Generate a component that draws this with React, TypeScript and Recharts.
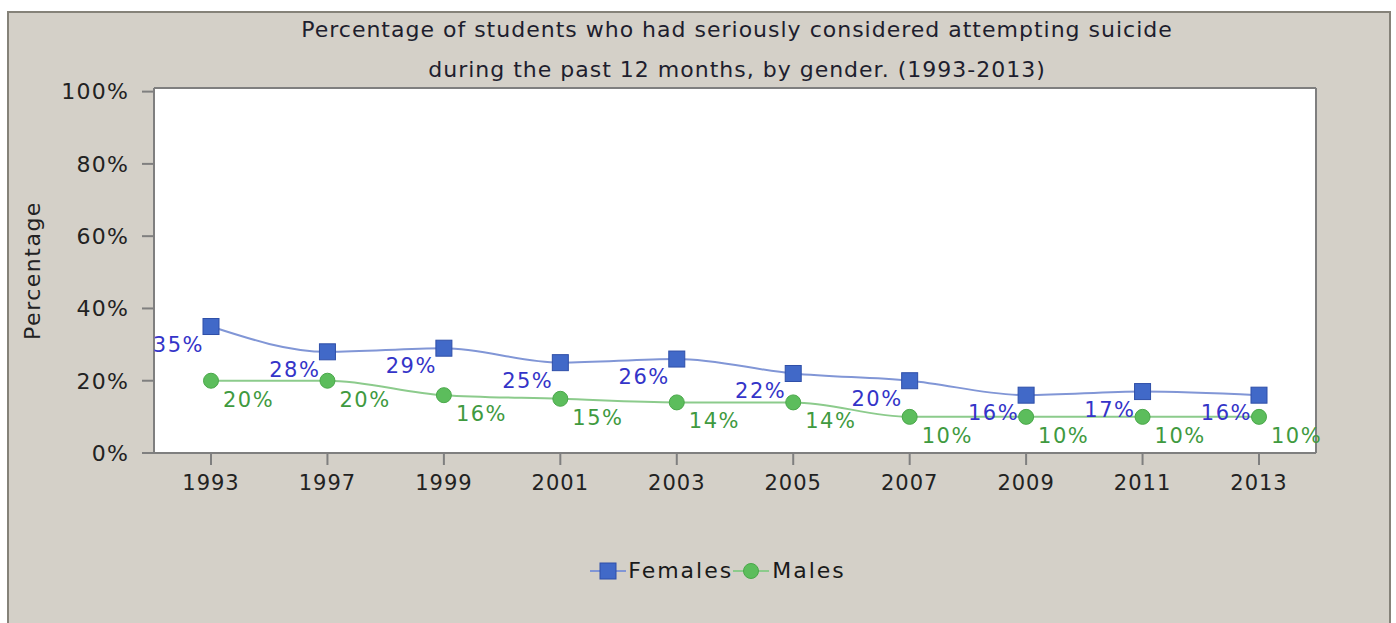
import { LineChart, Line, XAxis, YAxis, CartesianGrid, Legend, LabelList, Label } from "recharts";

const years = ["1993", "1997", "1999", "2001", "2003", "2005", "2007", "2009", "2011", "2013"];
const females = [35, 28, 29, 25, 26, 22, 20, 16, 17, 16];
const males = [20, 20, 16, 15, 14, 14, 10, 10, 10, 10];
const yTicks = [0, 20, 40, 60, 80, 100];

const titleLines = [
  "Percentage of students who had seriously considered attempting suicide",
  "during the past 12 months, by gender. (1993-2013)",
];

const data = years.map((year, i) => ({ year, females: females[i], males: males[i] }));

const FONT = "'DejaVu Sans', Verdana, sans-serif";
const FEMALE_LINE = "#8196d6";
const FEMALE_DOT = "#4169c8";
const FEMALE_TEXT = "#3434c8";
const MALE_LINE = "#8ccb8c";
const MALE_DOT = "#5cbd5c";
const MALE_TEXT = "#3f9a3f";
const BORDER = "#7f7f7f";

const SquareDot = (props: any) => {
  const { cx, cy, index } = props;
  if (cx == null || cy == null) return null;
  return <rect key={`sq-${index}`} x={cx - 8} y={cy - 8} width={16} height={16} fill={FEMALE_DOT} stroke="#2f4fa8" strokeWidth={1} />;
};

const CircleDot = (props: any) => {
  const { cx, cy, index } = props;
  if (cx == null || cy == null) return null;
  return <circle key={`ci-${index}`} cx={cx} cy={cy} r={7.5} fill={MALE_DOT} stroke="#4aa84a" strokeWidth={1} />;
};

const femaleLabel = (props: any) => {
  const { x, y, value, index } = props;
  return (
    <text key={`fl-${index}`} x={x - 7} y={y + 25} textAnchor="end" fill={FEMALE_TEXT} fontSize={21} letterSpacing={1.5} fontFamily={FONT}>
      {value}%
    </text>
  );
};

const maleLabel = (props: any) => {
  const { x, y, value, index } = props;
  return (
    <text key={`ml-${index}`} x={x + 12} y={y + 26} textAnchor="start" fill={MALE_TEXT} fontSize={21} letterSpacing={1.5} fontFamily={FONT}>
      {value}%
    </text>
  );
};

const LegendContent = () => (
  <div style={{ display: "flex", justifyContent: "center", alignItems: "center", fontFamily: FONT, fontSize: 22, letterSpacing: 2, color: "#1a1a1a" }}>
    <svg width={36} height={20}>
      <line x1={0} y1={10} x2={36} y2={10} stroke={FEMALE_LINE} strokeWidth={2} />
      <rect x={10} y={2} width={16} height={16} fill={FEMALE_DOT} stroke="#2f4fa8" />
    </svg>
    <span style={{ marginLeft: 2 }}>Females</span>
    <svg width={36} height={20}>
      <line x1={0} y1={10} x2={36} y2={10} stroke={MALE_LINE} strokeWidth={2} />
      <circle cx={18} cy={10} r={7.5} fill={MALE_DOT} stroke="#4aa84a" />
    </svg>
    <span style={{ marginLeft: 3 }}>Males</span>
  </div>
);

export default function App() {
  return (
    <div style={{ position: "absolute", left: 0, top: 0, width: 1396, height: 623, background: "#fff", overflow: "hidden" }}>
      <div
        style={{
          position: "absolute",
          left: 7,
          top: 11,
          width: 1380,
          height: 700,
          background: "#d4d0c8",
          border: "2px solid #858279",
        }}
      />
      <div style={{ position: "absolute", left: 154, width: 1166, top: 10, textAlign: "center", fontFamily: FONT, fontSize: 22, letterSpacing: 1, lineHeight: "40px", color: "#1e1e2e" }}>
        {titleLines.map((t) => (
          <div key={t}>{t}</div>
        ))}
      </div>
      <div style={{ position: "absolute", left: 0, top: 0 }}>
        <LineChart width={1396} height={623} data={data} margin={{ top: 87, right: 79, bottom: 130, left: 8 }}>
          <CartesianGrid horizontal={false} vertical={false} fill="#ffffff" fillOpacity={1} />
          <XAxis
            dataKey="year"
            xAxisId={0}
            padding={{ left: 57, right: 57 }}
            height={40}
            tickSize={12}
            tickMargin={10}
            stroke={BORDER}
            strokeWidth={2}
            tick={{ fill: "#222", fontSize: 21, letterSpacing: 1, fontFamily: FONT }}
          />
          <XAxis dataKey="year" xAxisId="top" orientation="top" height={1} tick={false} tickLine={false} stroke={BORDER} strokeWidth={2} />
          <YAxis
            yAxisId={0}
            domain={[0, 101]}
            ticks={yTicks}
            width={146}
            tickSize={12}
            tickMargin={13}
            stroke={BORDER}
            strokeWidth={2}
            tickFormatter={(v) => `${v}%`}
            tick={{ fill: "#222", fontSize: 22, letterSpacing: 1.2, fontFamily: FONT }}
          >
            <Label value="Percentage" angle={-90} position="insideLeft" offset={24} style={{ fill: "#222", fontSize: 22, letterSpacing: 1.5, fontFamily: FONT, textAnchor: "middle" }} />
          </YAxis>
          <YAxis yAxisId="right" orientation="right" width={1} domain={[0, 101]} tick={false} tickLine={false} stroke={BORDER} strokeWidth={2} />
          <Legend layout="horizontal" align="center" verticalAlign="middle" wrapperStyle={{ top: 558, left: 0, width: 1436 }} content={<LegendContent />} />
          <Line
            type="monotone"
            dataKey="females"
            name="Females"
            stroke={FEMALE_LINE}
            strokeWidth={2}
            dot={SquareDot}
            activeDot={false}
            isAnimationActive={false}
          >
            <LabelList dataKey="females" content={femaleLabel} />
          </Line>
          <Line
            type="monotone"
            dataKey="males"
            name="Males"
            stroke={MALE_LINE}
            strokeWidth={2}
            dot={CircleDot}
            activeDot={false}
            isAnimationActive={false}
          >
            <LabelList dataKey="males" content={maleLabel} />
          </Line>
        </LineChart>
      </div>
    </div>
  );
}
